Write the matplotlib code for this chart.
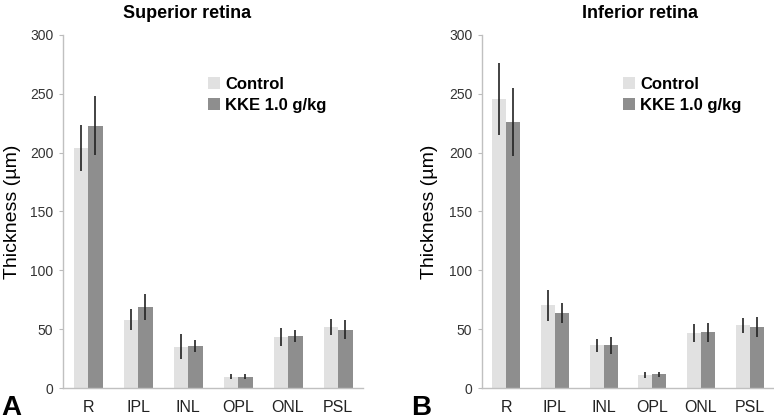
import matplotlib.pyplot as plt
import numpy as np

plt.rcParams['font.family'] = ['Liberation Sans', 'DejaVu Sans']

layers = ['R', 'IPL', 'INL', 'OPL', 'ONL', 'PSL']
series = ['Control', 'KKE 1.0 g/kg']

# superior retina
sup_control = [204, 58, 35, 9.6, 43.4, 51.9]
sup_control_err = [19.5, 9, 10.6, 2.1, 7.4, 6.5]
sup_kke = [223, 69, 36, 9.6, 44.2, 49.6]
sup_kke_err = [25.1, 10.8, 5.1, 2.3, 4.9, 8.1]

# inferior retina
inf_control = [245.5, 70.3, 36.3, 11.3, 46.5, 53.3]
inf_control_err = [30.6, 13, 5.4, 2.4, 7.8, 6.6]
inf_kke = [226.3, 64.1, 36.3, 11.6, 47.3, 51.9]
inf_kke_err = [29, 8.5, 7, 2.1, 8.1, 8.3]

colors = ['#e1e1e1', '#8e8e8e']
W, H = 774, 420
fig = plt.figure(figsize=(W / 100, H / 100), dpi=100)


def panel(left, right, ctrl, ctrl_err, kke, kke_err, title, title_x, letter, ylab_x):
    ax = fig.add_axes([left / W, (H - 388) / H, (right - left) / W, (388 - 35) / H])
    x = np.arange(len(layers))
    w = 0.29
    ax.bar(x - w / 2, ctrl, w, color=colors[0], label=series[0])
    ax.bar(x + w / 2, kke, w, color=colors[1], label=series[1])
    ax.errorbar(x - w / 2, ctrl, yerr=ctrl_err, fmt='none', ecolor='#222222', elinewidth=1.2, capsize=0)
    ax.errorbar(x + w / 2, kke, yerr=kke_err, fmt='none', ecolor='#222222', elinewidth=1.2, capsize=0)
    ax.set_xlim(-0.5, len(layers) - 0.5)
    ax.set_ylim(0, 300)
    ax.set_yticks(range(0, 301, 50))
    ax.set_xticks(x)
    ax.set_xticklabels(layers, fontsize=11.5, color='#222222')
    ax.tick_params(axis='x', length=0, pad=9)
    ax.tick_params(axis='y', length=3, width=0.8, color='#bbbbbb', labelsize=10, labelcolor='#333333', pad=4)
    for s in ['top', 'right']:
        ax.spines[s].set_visible(False)
    for s in ['left', 'bottom']:
        ax.spines[s].set_color('#c0c0c0')
        ax.spines[s].set_linewidth(1)
    ax.legend(loc='upper left', bbox_to_anchor=(0.46, 0.90), frameon=False,
              prop={'weight': 'bold', 'size': 12}, handlelength=0.75, handleheight=0.75,
              handletextpad=0.3, labelspacing=0.35, borderaxespad=0)
    fig.text(title_x / W, 1 - 13 / H, title, ha='center', va='center', fontsize=13, fontweight='bold')
    fig.text(ylab_x / W, 1 - 212 / H, 'Thickness (µm)', rotation=90, ha='center', va='center', fontsize=14)
    fig.text(letter[1] / W, 1 - 415 / H, letter[0], ha='left', va='baseline', fontsize=20, fontweight='bold')
    return ax


panel(63, 363, sup_control, sup_control_err, sup_kke, sup_kke_err, 'Superior retina', 187, ('A', 1), 13)
panel(482, 774, inf_control, inf_control_err, inf_kke, inf_kke_err, 'Inferior retina', 640, ('B', 411), 429)

fig.savefig('out.png', dpi=100)
